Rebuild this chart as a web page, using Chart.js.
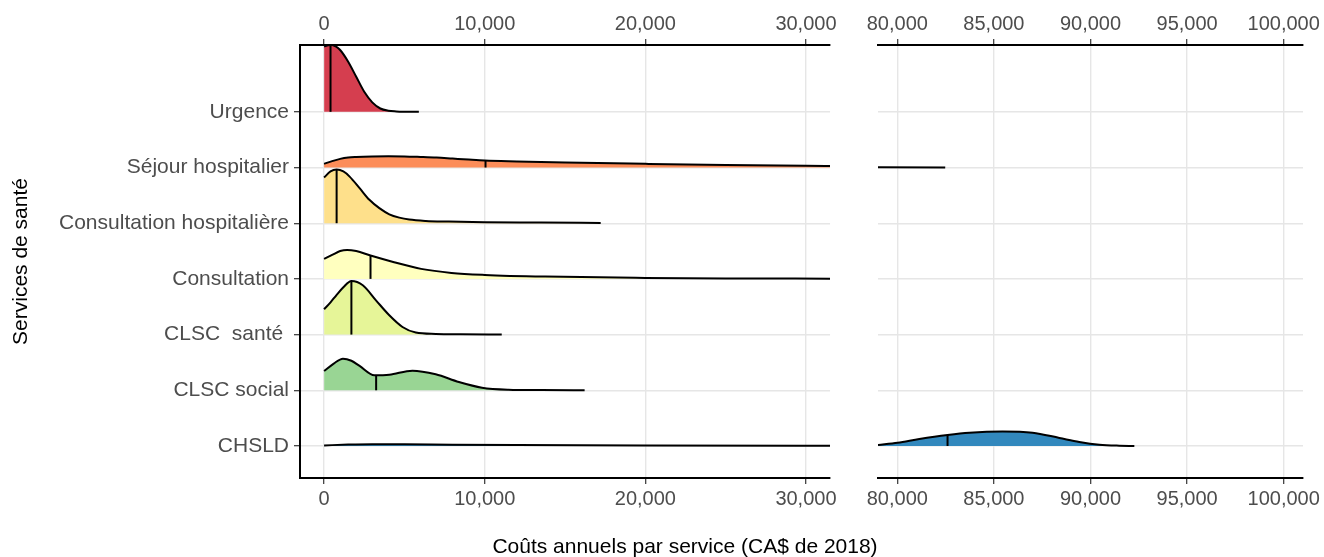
<!DOCTYPE html>
<html>
<head>
<meta charset="utf-8">
<title>Coûts annuels par service</title>
<script src="https://cdn.jsdelivr.net/npm/chart.js@4.4.1/dist/chart.umd.min.js"></script>
<style>
  body { margin: 0; background: #fff; width: 1324px; height: 557px; position: relative; overflow: hidden;
         font-family: 'Liberation Sans', Arial, sans-serif; }
  #leftPanel { position: absolute; left: 0; top: 0; }
  #rightPanel { position: absolute; left: 840px; top: 0; }
  #xTitle { position: absolute; left: 385px; width: 600px; top: 534px; text-align: center; font-size: 21px; color: #000; }
</style>
</head>
<body>
<canvas id="leftPanel" width="840" height="557"></canvas>
<canvas id="rightPanel" width="484" height="557"></canvas>
<div id="xTitle">Coûts annuels par service (CA$ de 2018)</div>
<script>
// categories, top to bottom
const categories = ['Urgence', 'Séjour hospitalier', 'Consultation hospitalière', 'Consultation', 'CLSC  santé ', 'CLSC social', 'CHSLD'];
const leftTicks = [0, 10000, 20000, 30000];
const rightTicks = [80000, 85000, 90000, 95000, 100000];

// density curves (height in rows)
const urgenceCost = [0, 250, 500, 750, 1000, 1500, 2000, 2500, 3000, 3500, 4000, 4500, 5000, 5900];
const urgenceDens = [1.17, 1.195, 1.2, 1.17, 1.11, 0.9, 0.63, 0.36, 0.17, 0.06, 0.02, 0.008, 0.003, 0];

const sejourCost = [0, 500, 1000, 1500, 2000, 3000, 4000, 5000, 6000, 7000, 8000, 9000, 10000, 12000, 15000, 20000, 25000, 30000, 31500];
const sejourDens = [0.066, 0.115, 0.155, 0.18, 0.19, 0.2, 0.203, 0.2, 0.19, 0.178, 0.16, 0.142, 0.126, 0.11, 0.09, 0.066, 0.045, 0.03, 0.027];

const consHospCost = [0, 400, 780, 1200, 1590, 2210, 2820, 3440, 4060, 4680, 5300, 6330, 7770, 10000, 13500, 17220];
const consHospDens = [0.82, 0.93, 0.963, 0.93, 0.837, 0.63, 0.42, 0.27, 0.16, 0.10, 0.065, 0.041, 0.03, 0.018, 0.012, 0.005];

const consCost = [0, 500, 1000, 1430, 2000, 2890, 4360, 6040, 7930, 10000, 13760, 20000, 25000, 31500];
const consDens = [0.36, 0.43, 0.5, 0.52, 0.5, 0.42, 0.30, 0.18, 0.108, 0.072, 0.041, 0.018, 0.009, 0.004];

const santeCost = [0, 400, 770, 1200, 1700, 2410, 3230, 4060, 4880, 5710, 6950, 8500, 11060];
const santeDens = [0.455, 0.58, 0.71, 0.85, 0.963, 0.886, 0.616, 0.347, 0.137, 0.036, 0.011, 0.005, 0.003];

const socialCost = [0, 600, 1175, 1700, 2210, 3130, 4060, 5500, 6950, 8390, 9830, 11480, 13500, 16220];
const socialDens = [0.347, 0.48, 0.568, 0.53, 0.437, 0.27, 0.28, 0.352, 0.287, 0.149, 0.047, 0.011, 0.004, 0];

const chsldCost = [0, 1500, 3000, 5000, 8000, 12000, 20000, 31500];
const chsldDens = [0.01, 0.025, 0.032, 0.03, 0.024, 0.018, 0.01, 0.005];

// right panel (80k - 100k)
const sejourFarCost = [79000, 82480];
const sejourFarDens = [0.004, 0.002];
const chsldFarCost = [79000, 80015, 81140, 82600, 83730, 85450, 87000, 88390, 89420, 90460, 91490, 92270];
const chsldFarDens = [0.018, 0.059, 0.126, 0.198, 0.239, 0.262, 0.239, 0.144, 0.072, 0.023, 0.005, 0];

// medians
const medianCost = [400, 10050, 780, 2890, 1700, 3240, 82600];
const medianHeight = [1.19, 0.126, 0.963, 0.42, 0.963, 0.27, 0.198];

const palette = ['#D53E4F', '#FC8D59', '#FEE08B', '#FFFFBF', '#E6F598', '#99D594', '#3288BD'];
const FONT = "'Liberation Sans', Arial, sans-serif";
Chart.defaults.font.family = FONT;

const leftCurves = [
  [urgenceCost, urgenceDens], [sejourCost, sejourDens], [consHospCost, consHospDens],
  [consCost, consDens], [santeCost, santeDens], [socialCost, socialDens], [chsldCost, chsldDens]
];
const rightCurves = [[1, sejourFarCost, sejourFarDens], [6, chsldFarCost, chsldFarDens]];

function rowBase(i) { return categories.length - i; }

function ridge(i, cost, dens) {
  const base = rowBase(i);
  return {
    data: cost.map((c, j) => ({ x: c, y: base + dens[j] })),
    borderColor: '#000', borderWidth: 2,
    backgroundColor: palette[i],
    fill: { value: base },
    pointRadius: 0, cubicInterpolationMode: 'monotone',
    order: 2
  };
}
function medianLine(i) {
  const base = rowBase(i);
  return {
    data: [{ x: medianCost[i], y: base }, { x: medianCost[i], y: base + medianHeight[i] }],
    borderColor: '#000', borderWidth: 2, pointRadius: 0, fill: false, order: 1
  };
}

const leftSets = leftCurves.map((c, i) => ridge(i, c[0], c[1]));
const rightSets = rightCurves.map(c => ridge(c[0], c[1], c[2]));
medianCost.forEach((m, i) => {
  if (m < 31500) leftSets.push(medianLine(i)); else rightSets.push(medianLine(i));
});

const tickFont = { size: 20, family: FONT };
const labelFont = { size: 21, family: FONT };
function xAxis(pos, min, max, ticks, h) {
  return {
    type: 'linear', position: pos, min: min, max: max,
    afterBuildTicks: s => { s.ticks = ticks.map(v => ({ value: v })); },
    afterFit: s => { s.height = h; },
    ticks: { color: '#4D4D4D', font: tickFont, padding: 3, maxRotation: 0,
             callback: v => Number(v).toLocaleString('en-US') },
    grid: { color: '#E6E6E6', lineWidth: 1.4, drawOnChartArea: pos === 'bottom',
            tickLength: 6, tickColor: '#333', tickWidth: 1.2 },
    border: { display: true, color: '#000', width: 2 }
  };
}
function yAxis(showLabels, w) {
  return {
    type: 'linear', min: 0.425, max: 8.2,
    afterBuildTicks: s => { s.ticks = categories.map((c, i) => ({ value: rowBase(i) })); },
    afterFit: s => { s.width = w; },
    ticks: { display: showLabels, color: '#4D4D4D', font: labelFont, padding: 5,
             callback: v => categories[categories.length - v] },
    grid: { color: '#E6E6E6', lineWidth: 1.4, drawTicks: showLabels, tickLength: 6, tickColor: '#333', tickWidth: 1.2 },
    border: { display: showLabels, color: '#000', width: 2 },
    title: { display: showLabels, text: 'Services de santé', color: '#000', font: labelFont, padding: { top: 9, bottom: 0 } }
  };
}

const common = {
  responsive: false, animation: false, devicePixelRatio: 1,
  plugins: { legend: { display: false }, tooltip: { enabled: false } }
};

new Chart(document.getElementById('leftPanel'), {
  type: 'line',
  data: { datasets: leftSets },
  options: Object.assign({}, common, {
    layout: { padding: { left: 0, right: 6, top: 0, bottom: 0 } },
    scales: {
      x: xAxis('bottom', -1500, 31500, leftTicks, 79),
      xTop: xAxis('top', -1500, 31500, leftTicks, 45),
      y: yAxis(true, 300)
    }
  })
});

new Chart(document.getElementById('rightPanel'), {
  type: 'line',
  data: { datasets: rightSets },
  options: Object.assign({}, common, {
    layout: { padding: { left: 0, right: 21, top: 0, bottom: 0 } },
    scales: {
      x: xAxis('bottom', 79000, 101000, rightTicks, 79),
      xTop: xAxis('top', 79000, 101000, rightTicks, 45),
      y: yAxis(false, 38)
    }
  })
});
</script>
</body>
</html>
